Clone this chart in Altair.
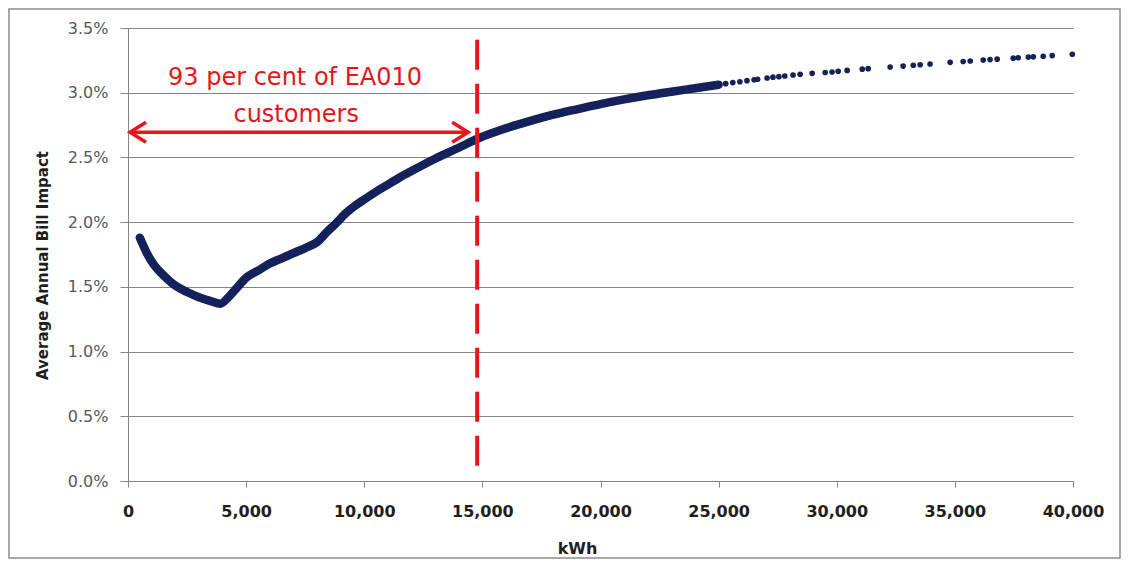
import altair as alt
import pandas as pd

# ---- data ----
curve_kwh = [500, 800, 1100, 1500, 2000, 2500, 3000, 3500, 3900, 4300, 4600, 5000,
             5500, 6000, 6500, 7000, 7500, 8000, 8400, 8800, 9200, 9600, 10000,
             10500, 11000, 11500, 12000, 13000, 14000, 14800, 16000, 17000, 18000,
             19000, 20000, 21000, 22000, 23000, 24000, 25000]
curve_pct = [1.88, 1.76, 1.67, 1.59, 1.51, 1.46, 1.42, 1.39, 1.37, 1.43, 1.49, 1.57,
             1.625, 1.68, 1.72, 1.76, 1.80, 1.845, 1.92, 1.99, 2.065, 2.125, 2.175,
             2.235, 2.29, 2.345, 2.395, 2.49, 2.575, 2.645, 2.725, 2.78, 2.83,
             2.872, 2.912, 2.948, 2.98, 3.008, 3.035, 3.062]

dot_kwh = [24600, 25000, 25300, 25600, 25900, 26200, 26500, 26650, 27050, 27300,
           27550, 27800, 28150, 28450, 28960, 29510, 29800, 30060, 30440, 31080,
           31330, 32260, 32810, 33240, 33530, 33950, 34800, 35350, 35650, 36200,
           36490, 36790, 37470, 37680, 38110, 38320, 38740, 39120, 39970]
dot_pct = [3.05, 3.063, 3.07, 3.078, 3.085, 3.093, 3.10, 3.104, 3.114, 3.12,
           3.124, 3.129, 3.137, 3.142, 3.15, 3.156, 3.16, 3.166, 3.172, 3.182,
           3.186, 3.199, 3.206, 3.212, 3.216, 3.222, 3.235, 3.241, 3.245, 3.252,
           3.256, 3.259, 3.267, 3.27, 3.275, 3.277, 3.282, 3.287, 3.297]

x_ticks = [0, 5000, 10000, 15000, 20000, 25000, 30000, 35000, 40000]
y_ticks = [0.0, 0.005, 0.01, 0.015, 0.02, 0.025, 0.03, 0.035]

threshold_kwh = [14780]
threshold_pct_top = [3.41]
threshold_pct_bottom = [0.108]

arrow_kwh_start = [85]
arrow_kwh_end = [14400]
arrow_pct = [2.695]

label_lines = ["93 per cent of EA010", "customers"]
label_kwh = [7070, 7120]
label_pct = [3.114, 2.829]

NAVY = "#14215a"
RED = "#e8141c"
GRID = "#868686"

curve_df = pd.DataFrame({"kwh": curve_kwh, "pct": [v / 100 for v in curve_pct]})
dots_df = pd.DataFrame({"kwh": dot_kwh, "pct": [v / 100 for v in dot_pct]})
vline_df = pd.DataFrame({"kwh": threshold_kwh,
                         "pct": [v / 100 for v in threshold_pct_top],
                         "pct2": [v / 100 for v in threshold_pct_bottom]})
arrow_df = pd.DataFrame({"kwh": arrow_kwh_start, "kwh2": arrow_kwh_end,
                         "pct": [v / 100 for v in arrow_pct]})
head_left_df = pd.DataFrame({"kwh": arrow_kwh_start, "pct": [v / 100 for v in arrow_pct]})
head_right_df = pd.DataFrame({"kwh": arrow_kwh_end, "pct": [v / 100 for v in arrow_pct]})
text_df = pd.DataFrame({"kwh": label_kwh, "pct": [v / 100 for v in label_pct],
                        "label": label_lines})
frame_df = pd.DataFrame({"k": [0]})

x_scale = alt.Scale(domain=[0, 40000], nice=False, zero=False)
y_scale = alt.Scale(domain=[0, 0.035], nice=False)

x_axis = alt.Axis(values=x_ticks, format=",.0f", grid=False, title="kWh",
                  domainColor=GRID, tickColor=GRID, tickSize=6,
                  labelFlush=False, labelOverlap=False,
                  labelFont="DejaVu Sans", labelFontSize=16, labelFontWeight="bold",
                  labelColor="#1e1e1e", labelPadding=16,
                  titleFont="DejaVu Sans", titleFontSize=16, titleFontWeight="bold",
                  titleColor="#1e1e1e", titleX=449, titleY=67,
                  titleAlign="center", titleBaseline="middle")
y_axis = alt.Axis(values=y_ticks, format=".1%", grid=True, gridColor=GRID,
                  gridWidth=1, title="Average Annual Bill Impact",
                  domainColor=GRID, tickColor=GRID, tickSize=8,
                  labelFlush=False, labelOverlap=False,
                  labelFont="DejaVu Sans", labelFontSize=16, labelColor="#595959",
                  labelPadding=12,
                  titleFont="DejaVu Sans", titleFontSize=15, titleFontWeight="bold",
                  titleColor="#1e1e1e", titleX=-86, titleY=237,
                  titleAlign="center", titleBaseline="middle")

X = alt.X("kwh:Q", scale=x_scale, axis=x_axis)
Y = alt.Y("pct:Q", scale=y_scale, axis=y_axis)

curve = alt.Chart(curve_df).mark_line(
    color=NAVY, strokeWidth=8.5, strokeCap="round", strokeJoin="round",
    interpolate="monotone"
).encode(x=X, y=Y)

dots = alt.Chart(dots_df).mark_circle(color=NAVY, size=32, opacity=1).encode(x=X, y=Y)

vline = alt.Chart(vline_df).mark_rule(
    color=RED, strokeWidth=4, strokeDash=[30, 14]
).encode(x=X, y=Y, y2=alt.Y2("pct2:Q"))

arrow = alt.Chart(arrow_df).mark_rule(color=RED, strokeWidth=3.5).encode(
    x=X, x2=alt.X2("kwh2:Q"), y=Y)

head_left = alt.Chart(head_left_df).mark_point(
    shape="M1.6,-1L0,0L1.6,1", size=400, filled=False, color=RED,
    strokeWidth=3.5, opacity=1, strokeJoin="miter"
).encode(x=X, y=Y)

head_right = alt.Chart(head_right_df).mark_point(
    shape="M-1.6,-1L0,0L-1.6,1", size=400, filled=False, color=RED,
    strokeWidth=3.5, opacity=1, strokeJoin="miter"
).encode(x=X, y=Y)

texts = alt.Chart(text_df).mark_text(
    font="DejaVu Sans", fontSize=24, color=RED, align="center", baseline="middle"
).encode(x=X, y=Y, text="label:N")

frame = alt.Chart(frame_df).mark_rect(
    fillOpacity=0, stroke="#8c8c8c", strokeWidth=1.5
).encode(x=alt.value(-119), x2=alt.value(992), y=alt.value(-19), y2=alt.value(530))

chart = alt.layer(
    frame, curve, dots, vline, arrow, head_left, head_right, texts
).properties(
    width=945, height=453,
    padding={"left": 120, "top": 20, "right": 48, "bottom": 78},
    autosize=alt.AutoSizeParams(type="none"),
    background="white",
).configure_view(strokeWidth=0)

chart.save("out.html", embed_options={"renderer": "svg", "actions": False})
